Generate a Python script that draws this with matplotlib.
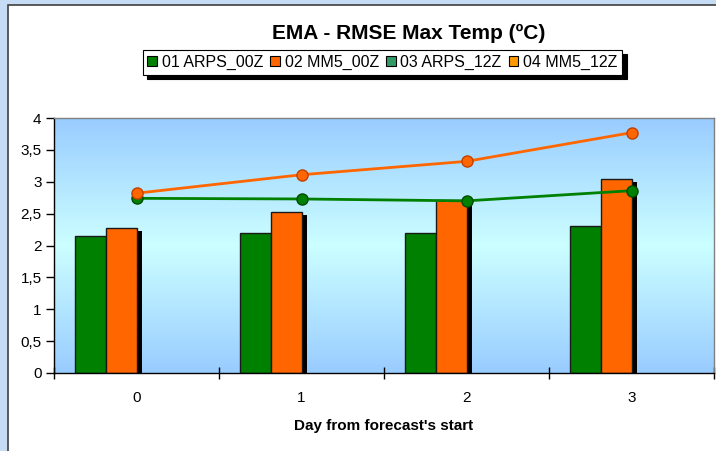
import numpy as np
import matplotlib
matplotlib.use("Agg")
import matplotlib.pyplot as plt
import matplotlib.transforms as mtransforms
from matplotlib.patches import Patch, Rectangle

plt.rcParams['font.family'] = ['Liberation Sans', 'DejaVu Sans']

days = [0, 1, 2, 3]
day_labels = ["0", "1", "2", "3"]
arps_00z = [2.15, 2.19, 2.19, 2.31]
mm5_00z = [2.27, 2.52, 2.71, 3.04]
arps_12z = [2.74, 2.73, 2.70, 2.86]
mm5_12z = [2.82, 3.11, 3.32, 3.77]
series_names = ["01 ARPS_00Z", "02 MM5_00Z", "03 ARPS_12Z", "04 MM5_12Z"]
yticks = [0, 0.5, 1, 1.5, 2, 2.5, 3, 3.5, 4]
ytick_labels = ["0", "0,5", "1", "1,5", "2", "2,5", "3", "3,5", "4"]

W, H = 716, 451
fig = plt.figure(figsize=(W / 100, H / 100), dpi=100)
fig.patch.set_facecolor('#c6dcf4')

# white chart area with dark border
fig.add_artist(Rectangle((8 / W, -0.01), 1.0, 1 - 5 / H + 0.01, transform=fig.transFigure,
                         facecolor='white', edgecolor='#404040', linewidth=1.2, zorder=0))

ax = fig.add_axes([54 / W, (H - 373) / H, (714 - 54) / W, (373 - 118) / H])
ax.set_facecolor('none')

# gradient background
grad = np.abs(np.linspace(-1, 1, 256))
c_edge = np.array([0x99, 0xCC, 0xFF]) / 255
c_mid = np.array([0xCC, 0xFF, 0xFF]) / 255
img = c_mid[None, :] * (1 - grad[:, None]) + c_edge[None, :] * grad[:, None]
img = img[:, None, :]
ax.imshow(img, extent=[0, 1, 0, 1], transform=ax.transAxes, aspect='auto', zorder=0)

x = np.array(days, dtype=float)
w = 0.185
off_g = -0.2775
off_o = -0.0925

shadow_tr = ax.transData + mtransforms.ScaledTranslation(5 / 100, -3 / 100, fig.dpi_scale_trans)
for vals, off in [(arps_00z, off_g), (mm5_00z, off_o)]:
    ax.bar(x + off, vals, width=w, color='black', edgecolor='black', linewidth=0,
           transform=shadow_tr, zorder=1)
ax.bar(x + off_g, arps_00z, width=w, color='#008000', edgecolor='#1a1a1a', linewidth=1.0, zorder=2)
ax.bar(x + off_o, mm5_00z, width=w, color='#FF6600', edgecolor='#1a1a1a', linewidth=1.0, zorder=2)

ax.plot(x, arps_12z, color='#008000', linewidth=2, marker='o', markersize=8,
        markerfacecolor='#008000', markeredgecolor='#004d00', markeredgewidth=1, zorder=3)
ax.plot(x, mm5_12z, color='#FF6600', linewidth=2, marker='o', markersize=8,
        markerfacecolor='#FF6600', markeredgecolor='#c04000', markeredgewidth=1, zorder=4)

ax.set_xlim(-0.5, 3.5)
ax.set_ylim(0, 4)
ax.set_yticks(yticks)
ax.set_yticklabels(ytick_labels, fontsize=11)
ax.tick_params(axis='y', direction='out', length=6, width=1, pad=3, colors='black')
ax.set_xticks([-0.5, 0.5, 1.5, 2.5, 3.5])
ax.set_xticklabels([])
ax.set_xticks(x, minor=True)
ax.set_xticklabels(day_labels, minor=True, fontsize=11)
ax.tick_params(axis='x', which='major', direction='inout', length=8, width=1, colors='black')
ax.tick_params(axis='x', which='minor', length=0, pad=13)
ax.set_xlabel("Day from forecast's start", fontsize=11, fontweight='bold', labelpad=10)

for s in ['left', 'bottom']:
    ax.spines[s].set_color('black')
    ax.spines[s].set_linewidth(1)
for s in ['top', 'right']:
    ax.spines[s].set_color('#808080')
    ax.spines[s].set_linewidth(1)

fig.text(409 / W, 1 - 33 / H, "EMA - RMSE Max Temp (ºC)", ha='center', va='center',
         fontsize=15, fontweight='bold')

handles = [Patch(facecolor='#008000', edgecolor='black', linewidth=0.8),
           Patch(facecolor='#FF6600', edgecolor='black', linewidth=0.8),
           Patch(facecolor='#339966', edgecolor='black', linewidth=0.8),
           Patch(facecolor='#FF9900', edgecolor='black', linewidth=0.8)]
leg = fig.legend(handles, series_names, loc='center', bbox_to_anchor=(382.5 / W, 1 - 62.5 / H),
                 ncol=4, fontsize=11.5, frameon=True, fancybox=False,
                 shadow={'color': 'black', 'alpha': 1, 'ox': 3, 'oy': -3},
                 handlelength=0.6, handleheight=0.6, handletextpad=0.3, columnspacing=0.45,
                 borderpad=0.3, borderaxespad=0)
leg.get_frame().set_edgecolor('black')
leg.get_frame().set_linewidth(0.8)
leg.get_frame().set_alpha(1)

fig.savefig('out.png', dpi=100)
